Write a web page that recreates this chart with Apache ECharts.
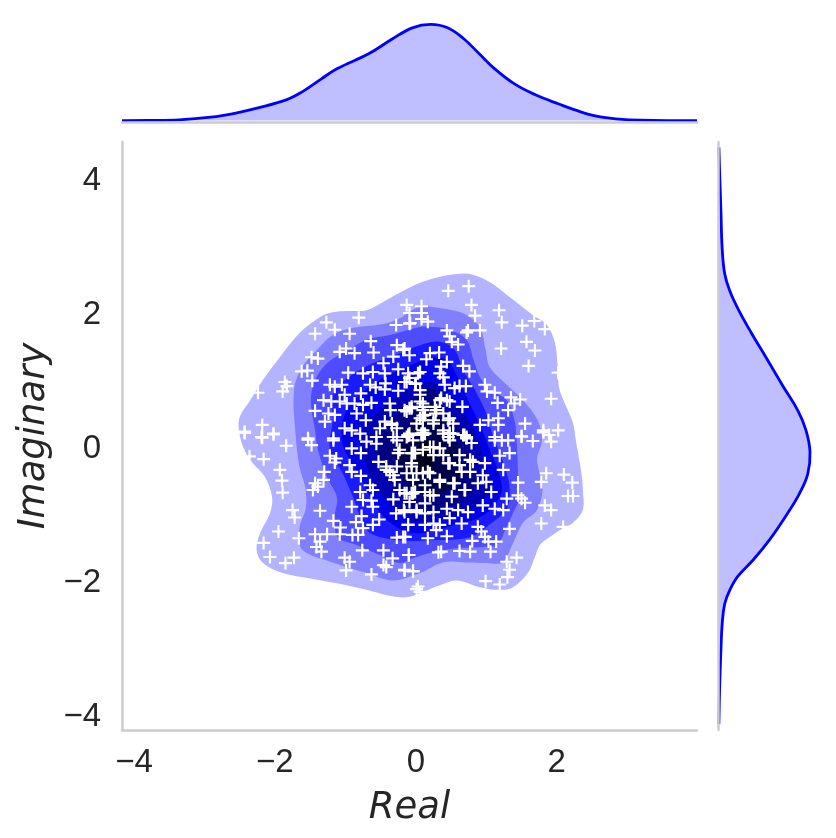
<!DOCTYPE html>
<html>
<head>
<meta charset="utf-8">
<title>Real / Imaginary</title>
<style>
html, body { margin: 0; padding: 0; background: #fff; }
#main { width: 836px; height: 838px; }
</style>
<script src="https://cdn.jsdelivr.net/npm/echarts@6/dist/echarts.min.js"></script>
</head>
<body>
<div id="main"></div>
<script>
var xTicks = [-4, -2, 0, 2];
var yTicks = [-4, -2, 0, 2, 4];

// marginal density, [real, density]
var kdeReal = [[-4.17,0],[-3.8,0.0005],[-3.36,0.003],[-2.91,0.014],[-2.57,0.030],[-2.24,0.052],[-1.84,0.085],[-1.62,0.117],[-1.34,0.172],[-1.12,0.213],[-0.67,0.275],[-0.33,0.337],[-0.05,0.382],[0.21,0.396],[0.45,0.382],[0.68,0.337],[0.90,0.275],[1.12,0.213],[1.40,0.151],[1.69,0.107],[2.02,0.069],[2.36,0.034],[2.64,0.014],[3.03,0.003],[3.99,0]];
// marginal density, [density, imaginary]
var kdeImag = [[0,4.5],[0.003,4.16],[0.009,3.57],[0.015,2.98],[0.026,2.62],[0.048,2.37],[0.085,2.10],[0.143,1.75],[0.217,1.34],[0.290,0.93],[0.356,0.57],[0.392,0.28],[0.410,-0.04],[0.400,-0.37],[0.363,-0.66],[0.305,-0.98],[0.231,-1.34],[0.158,-1.64],[0.085,-1.90],[0.048,-2.11],[0.026,-2.31],[0.015,-2.60],[0.009,-3.01],[0.003,-3.60],[0,-4.1]];

// filled density contours, outermost first
var level1 = [[-2.51,0.28],[-2.50,0.48],[-2.35,0.73],[-2.17,1.03],[-1.93,1.37],[-1.65,1.73],[-1.36,1.97],[-1.18,2.04],[-0.98,2.06],[-0.70,2.07],[-0.47,2.19],[-0.23,2.33],[0.06,2.48],[0.34,2.57],[0.58,2.61],[0.77,2.61],[1.05,2.49],[1.33,2.27],[1.66,2.00],[1.86,1.85],[1.97,1.60],[2.01,1.28],[2.03,0.93],[2.11,0.69],[2.23,0.39],[2.27,0.13],[2.35,-0.36],[2.37,-0.61],[2.37,-0.91],[2.23,-1.10],[2.09,-1.18],[1.90,-1.31],[1.76,-1.43],[1.69,-1.61],[1.59,-1.85],[1.38,-2.06],[1.19,-2.10],[0.91,-2.06],[0.58,-1.96],[0.34,-2.03],[0.10,-2.13],[-0.13,-2.21],[-0.41,-2.18],[-0.70,-2.10],[-1.08,-2.01],[-1.50,-1.93],[-1.89,-1.85],[-2.17,-1.70],[-2.26,-1.51],[-2.21,-1.25],[-2.07,-0.96],[-2.04,-0.72],[-2.14,-0.42],[-2.33,-0.19],[-2.45,0.03]];
var level2 = [[-1.73,0.88],[-1.62,1.21],[-1.40,1.48],[-1.18,1.70],[-0.89,1.81],[-0.55,1.85],[-0.27,1.93],[0.06,2.13],[0.24,2.12],[0.52,2.07],[0.72,2.00],[0.91,1.82],[0.99,1.48],[1.05,1.22],[1.29,0.96],[1.52,0.73],[1.73,0.43],[1.79,0.13],[1.72,-0.16],[1.80,-0.57],[1.72,-0.91],[1.52,-1.10],[1.38,-1.40],[1.23,-1.69],[1.01,-1.70],[0.72,-1.69],[0.38,-1.69],[0.06,-1.85],[-0.33,-1.96],[-0.70,-1.85],[-1.18,-1.69],[-1.55,-1.55],[-1.65,-1.43],[-1.65,-1.16],[-1.56,-0.87],[-1.57,-0.57],[-1.65,-0.27],[-1.70,0.13]];
var level3 = [[-1.49,0.73],[-1.43,1.03],[-1.26,1.28],[-1.04,1.43],[-0.70,1.63],[-0.37,1.70],[0.06,1.82],[0.24,1.82],[0.48,1.78],[0.72,1.63],[0.82,1.33],[0.91,1.07],[1.05,0.88],[1.29,0.73],[1.40,0.43],[1.43,0.13],[1.45,-0.36],[1.46,-0.76],[1.40,-0.91],[1.29,-1.16],[1.15,-1.43],[0.95,-1.46],[0.58,-1.48],[0.24,-1.54],[-0.04,-1.63],[-0.23,-1.70],[-0.51,-1.58],[-0.84,-1.43],[-1.11,-1.31],[-1.15,-1.01],[-1.12,-0.72],[-1.26,-0.42],[-1.39,-0.01],[-1.43,0.28]];
var level4 = [[-1.18,0.43],[-1.18,0.81],[-1.01,1.03],[-0.61,1.28],[-0.23,1.43],[0.06,1.55],[0.34,1.60],[0.55,1.48],[0.67,1.18],[0.84,0.88],[1.02,0.48],[1.08,0.24],[1.19,-0.06],[1.29,-0.36],[1.33,-0.57],[1.30,-0.87],[1.08,-1.10],[0.77,-1.31],[0.20,-1.36],[-0.23,-1.36],[-0.65,-1.25],[-0.79,-1.01],[-0.89,-0.72],[-1.04,-0.36],[-1.22,-0.01]];
var level5 = [[-1.05,0.13],[-1.01,0.51],[-0.82,0.78],[-0.51,1.03],[-0.16,1.21],[0.20,1.36],[0.44,1.33],[0.58,1.10],[0.74,0.73],[0.91,0.36],[1.05,-0.01],[1.16,-0.31],[1.22,-0.61],[1.09,-0.87],[0.88,-1.03],[0.55,-1.13],[0.20,-1.24],[-0.11,-1.24],[-0.37,-1.09],[-0.58,-0.84],[-0.77,-0.46],[-0.94,-0.16]];
var level6 = [[-0.77,0.06],[-0.72,0.36],[-0.51,0.58],[-0.23,0.81],[0.06,0.96],[0.27,0.99],[0.44,0.81],[0.67,0.55],[0.87,0.18],[0.96,-0.16],[1.04,-0.46],[0.98,-0.72],[0.74,-0.91],[0.41,-1.03],[0.09,-1.09],[-0.13,-1.03],[-0.37,-0.81],[-0.58,-0.54],[-0.71,-0.24]];
var level7 = [[-0.54,-0.01],[-0.44,0.28],[-0.23,0.55],[0.06,0.85],[0.23,0.91],[0.34,0.73],[0.45,0.54],[0.65,0.24],[0.77,-0.09],[0.84,-0.43],[0.74,-0.69],[0.48,-0.84],[0.13,-0.91],[-0.09,-0.84],[-0.30,-0.58],[-0.44,-0.31]];
var level8 = [[-0.30,-0.01],[-0.16,0.25],[0.03,0.55],[0.23,0.70],[0.37,0.43],[0.55,0.13],[0.65,-0.16],[0.62,-0.46],[0.41,-0.64],[0.13,-0.69],[-0.09,-0.54],[-0.23,-0.31]];
var level9 = [[0.01,-0.01],[0.13,0.13],[0.23,0.03],[0.23,-0.24],[0.13,-0.39],[0.03,-0.28]];
var levels = [level1, level2, level3, level4, level5, level6, level7, level8, level9];
var levelColors = ['#b3b3ff', '#8080ff', '#4d4dff', '#1a1aff', '#0000e6', '#0000b3', '#000080', '#00004d', '#00001a'];

// samples, [real, imaginary]
var points = [
[-1.27,1.89],[-1.43,1.72],[-1.15,1.78],[-0.94,1.72],[-0.81,1.96],[-0.13,2.15],[-0.09,2.03],[-0.28,1.85],[-0.08,1.88],[-0.64,1.61],[-0.99,1.50],[-1.08,1.45],[-0.87,1.43],[-0.60,1.44],[-0.27,1.55],[-0.18,1.48],[-0.32,1.38],[-0.09,1.40],[-1.48,1.37],[-1.39,1.35],[-0.46,1.28],[-1.62,1.16],[-1.54,1.17],[-0.96,1.14],[-0.75,1.13],[-0.61,1.15],[-0.44,1.13],[-0.25,1.19],[-0.11,1.13],[0.03,1.13],[-1.86,1.00],[-1.83,0.94],[-2.24,0.84],[-1.89,0.86],[-1.47,1.02],[-1.22,0.96],[-1.05,0.96],[-1.15,0.93],[-0.65,0.96],[-0.57,0.92],[-0.43,0.98],[-0.44,0.89],[-0.25,0.87],[-0.13,1.00],[0.00,0.98],[-0.78,0.83],[-1.01,0.81],[-1.31,0.73],[-1.20,0.71],[-1.08,0.71],[-0.98,0.68],[-0.87,0.68],[-0.75,0.66],[-0.63,0.69],[-0.37,0.68],[-0.36,0.58],[-0.06,0.63],[-0.13,0.56],[-1.43,0.57],[-1.24,0.53],[-1.15,0.51],[-0.84,0.53],[-1.29,0.41],[-0.71,0.43],[-2.18,0.36],[-2.43,0.26],[-2.02,0.23],[-2.19,0.18],[-1.53,0.16],[-1.17,0.16],[-1.01,0.31],[-0.91,0.28],[-0.79,0.23],[-0.51,0.31],[-0.34,0.36],[-0.27,0.31],[-0.11,0.20],[0.01,0.38],[-0.56,0.18],
[0.46,2.36],[0.75,2.43],[0.08,2.13],[0.79,2.15],[0.08,2.03],[0.84,1.99],[1.18,2.07],[0.08,1.94],[-0.09,1.87],[0.17,1.90],[1.22,1.89],[1.68,1.91],[1.51,1.84],[1.83,1.79],[0.74,1.77],[0.72,1.74],[0.91,1.77],[0.44,1.77],[0.48,1.68],[0.51,1.60],[0.60,1.56],[1.57,1.60],[1.69,1.47],[1.21,1.50],[1.60,1.24],[2.02,1.14],[1.92,0.75],[-0.16,1.50],[0.20,1.43],[0.33,1.44],[0.15,1.34],[0.44,1.30],[0.67,1.24],[0.76,1.16],[0.36,1.23],[0.34,1.13],[0.39,1.07],[0.06,1.15],[-0.09,1.06],[-0.01,0.97],[-0.16,1.00],[0.41,0.96],[0.55,0.91],[0.62,0.94],[0.71,0.94],[0.98,0.96],[1.01,0.86],[1.12,0.84],[1.35,0.77],[1.48,0.74],[1.40,0.68],[1.31,0.58],[1.16,0.69],[0.06,0.81],[0.44,0.73],[0.36,0.76],[0.66,0.63],[0.06,0.71],[-0.06,0.61],[-0.16,0.58],[0.10,0.58],[0.27,0.63],[0.28,0.53],[0.39,0.53],[0.06,0.46],[0.10,0.50],[0.48,0.46],[0.53,0.38],[0.25,0.38],[0.91,0.36],[1.03,0.43],[1.17,0.46],[1.17,0.36],[1.55,0.38],[1.50,0.19],[1.81,0.28],[1.89,0.21],[2.02,0.28],[0.39,0.23],[0.48,0.23],[0.67,0.21],[0.08,0.23],[-0.11,0.21],[1.12,0.18],
[-2.43,0.24],[-2.18,0.17],[-2.02,0.22],[-1.84,0.05],[-2.36,-0.11],[-2.16,-0.15],[-1.93,-0.31],[-1.90,-0.47],[-1.89,-0.65],[-1.75,-0.91],[-1.72,-1.02],[-1.36,-0.92],[-1.95,-1.23],[-1.66,-1.33],[-2.16,-1.40],[-2.07,-1.61],[-1.73,-1.62],[-1.85,-1.70],[-1.53,0.14],[-1.48,0.06],[-1.17,0.13],[-1.22,-0.10],[-1.13,-0.14],[-1.15,-0.20],[-0.91,0.01],[-0.78,-0.06],[-0.70,0.11],[-0.56,0.08],[-0.94,-0.24],[-0.91,-0.34],[-0.78,-0.40],[-0.53,-0.19],[-1.30,-0.34],[-1.31,-0.46],[-1.43,-0.51],[-1.39,-0.56],[-1.46,-0.61],[-0.65,-0.54],[-0.79,-0.64],[-0.61,-0.61],[-0.75,-0.76],[-0.63,-0.77],[-0.91,-0.86],[-0.61,-0.86],[-0.32,-0.75],[-0.28,-0.96],[-0.17,-0.91],[-0.77,-1.00],[-0.85,-1.09],[-0.52,-1.05],[-0.61,-1.13],[-0.75,-1.18],[-1.17,-1.07],[-1.07,-1.17],[-1.08,-1.27],[-1.43,-1.27],[-1.26,-1.27],[-1.36,-1.38],[-1.41,-1.46],[-1.34,-1.53],[-0.90,-1.28],[-0.82,-1.28],[-0.11,-1.13],[-0.27,-1.32],[-0.18,-1.31],[-0.76,-1.51],[-0.46,-1.51],[-0.33,-1.63],[-0.10,-1.58],[-1.01,-1.62],[-0.94,-1.68],[-0.99,-1.81],[-0.63,-1.87],[-0.46,-1.73],[-0.42,-1.76],[-0.16,-1.80],[-0.04,-1.82],[0.01,-2.09],[-0.37,-0.34],[-0.30,-0.46],[-0.42,-0.26],[-0.23,-0.01],[-0.27,0.13],[-0.06,-0.06],[-0.04,0.13],[0.01,-0.36],[-0.23,-0.61],[-0.06,-0.66],[0.01,-0.91],[-0.13,-0.36],
[1.12,0.13],[1.22,0.13],[1.31,0.13],[1.50,0.19],[1.66,0.12],[1.92,0.11],[1.81,0.25],[1.33,-0.06],[1.19,-0.10],[1.24,-0.31],[1.45,-0.50],[1.85,-0.36],[1.78,-0.49],[2.10,-0.38],[2.22,-0.50],[2.16,-0.70],[2.23,-0.70],[1.83,-0.84],[1.92,-0.91],[1.78,-1.11],[2.09,-1.16],[1.45,-0.69],[1.55,-0.80],[1.50,-0.74],[1.29,-0.74],[1.24,-0.91],[1.12,-0.89],[0.95,-0.84],[1.33,-1.19],[1.14,-1.38],[0.98,-1.31],[1.03,-1.38],[0.80,-1.37],[1.06,-1.53],[0.77,-1.53],[0.62,-1.52],[0.36,-1.53],[0.32,-1.54],[0.44,-1.30],[0.17,-1.33],[-0.10,-1.58],[-0.15,-1.31],[1.29,-1.68],[1.43,-1.62],[1.33,-1.80],[1.30,-1.91],[1.19,-2.02],[0.99,-1.97],[-0.16,-1.81],[-0.04,-1.82],[0.03,-2.05],[0.06,-2.13],[0.65,-1.11],[0.88,-1.16],[0.93,-1.23],[0.29,-1.21],[0.34,-1.13],[0.48,-1.03],[0.25,-1.11],[0.25,-0.94],[0.13,-1.13],[0.01,-0.94],[-0.11,-1.13],[-0.16,-0.94],[0.13,-0.81],[0.44,-0.89],[0.60,-0.91],[0.74,-0.94],[0.51,-0.71],[0.25,-0.69],[-0.09,-0.79],[-0.16,-0.66],[-0.01,-0.64],[-0.04,-0.46],[0.17,-0.34],[0.34,-0.49],[0.55,-0.51],[0.69,-0.61],[0.88,-0.51],[1.00,-0.49],[1.07,-0.64],[0.95,-0.39],[0.77,-0.34],[0.62,-0.24],[0.98,-0.21],[0.81,-0.19],[0.46,-0.21],[0.25,0.03],[0.39,-0.09],[0.48,0.13],[0.72,0.16],[0.79,0.09],[-0.01,-0.06],[-0.06,-0.21],[-0.11,0.21],[0.08,0.21],[0.48,0.24],[0.69,0.21],
[-0.42,-0.31],[-0.27,-0.26],[-0.32,-0.39],[-0.25,-0.06],[-0.04,-0.06],[-0.06,-0.26],[-0.13,-0.66],[-0.04,-0.66],[0.10,-0.01],[0.10,-0.36],[0.13,-0.64],[0.13,-0.96],[-0.32,0.18],[-0.13,0.18],[0.10,0.24],[0.20,0.03],[0.25,-0.09],[0.20,-0.36],[0.34,-0.46],[0.13,-0.54],[0.20,-0.69],[0.48,-0.21],[0.46,0.18],[0.62,-0.09],[0.77,-0.16],[0.65,-0.34],[0.53,-0.51],[0.70,-0.61],[0.34,0.01],[0.72,0.18],[0.10,0.21],[-0.09,0.61],[0.10,0.68],[0.06,0.88],[0.13,0.51],[-0.44,0.41],[-0.34,0.38],[-0.09,0.23],[0.10,0.28],[0.10,0.63],[0.29,0.58],[0.25,0.43],[0.46,0.43],[0.10,0.43],[0.39,0.28],[0.13,0.23],[0.53,0.23],[0.34,0.73],[0.48,0.71]
];

function polySeries(pts, color, gridIdx, z) {
    return {
        type: 'custom',
        coordinateSystem: 'cartesian2d',
        xAxisIndex: gridIdx,
        yAxisIndex: gridIdx,
        data: pts,
        encode: { x: 0, y: 1 },
        z: z,
        silent: true,
        animation: false,
        clip: false,
        renderItem: function(params, api) {
            // one shape per series, drawn on the first row only
            if (params.dataIndex !== 0) return;
            return {
                type: 'polygon',
                shape: { points: pts.map(function(p) { return api.coord(p); }), smooth: 0.35 },
                style: { fill: color, stroke: null }
            };
        }
    };
}

function kdeSeries(pts, gridIdx) {
    return {
        type: 'custom',
        coordinateSystem: 'cartesian2d',
        xAxisIndex: gridIdx,
        yAxisIndex: gridIdx,
        data: pts,
        encode: { x: 0, y: 1 },
        z: 3,
        silent: true,
        animation: false,
        clip: false,
        renderItem: function(params, api) {
            if (params.dataIndex !== 0) return;
            return {
                type: 'polyline',
                shape: { points: pts.map(function(p) { return api.coord(p); }), smooth: 0.4 },
                style: { fill: '#bfbfff', stroke: '#0000ff', lineWidth: 2.8 }
            };
        }
    };
}

function minusLabel(v) {
    return String(v).replace('-', '\u2212');
}

var axisLine = { show: true, onZero: false, lineStyle: { color: '#cccccc', width: 2.5 } };
var labelFont = { color: '#262626', fontFamily: '"Liberation Sans", Arial, sans-serif', fontSize: 33 };
var nameFont = { color: '#262626', fontFamily: '"DejaVu Sans", sans-serif', fontStyle: 'italic', fontSize: 37 };

var series = levels.map(function(l, i) {
    return polySeries(l, levelColors[i], 0, 2 + i * 0.01);
});
series.push({
    type: 'scatter',
    xAxisIndex: 0,
    yAxisIndex: 0,
    data: points,
    symbol: 'path://M5 0h2v5h5v2H7v5H5V7H0V5h5z',
    symbolSize: 13,
    itemStyle: { color: '#ffffff', opacity: 1 },
    z: 5,
    silent: true,
    animation: false
});
series.push(kdeSeries(kdeReal, 1));
series.push(kdeSeries(kdeImag, 2));

var option = {
    backgroundColor: '#ffffff',
    animation: false,
    grid: [
        { left: 122, top: 142, width: 575, height: 588 },
        { left: 122, top: 14, width: 575, height: 108 },
        { left: 718, top: 142, width: 96, height: 588 }
    ],
    xAxis: [
        {
            gridIndex: 0, type: 'value', min: -4.17, max: 3.99,
            name: 'Real', nameLocation: 'middle', nameGap: 60, nameTextStyle: nameFont,
            axisLine: axisLine, axisTick: { show: false }, splitLine: { show: false },
            axisLabel: Object.assign({ customValues: xTicks, formatter: minusLabel, margin: 16 }, labelFont),
            z: 10
        },
        {
            gridIndex: 1, type: 'value', min: -4.17, max: 3.99,
            axisLine: axisLine, axisTick: { show: false }, splitLine: { show: false }, axisLabel: { show: false },
            z: 10
        },
        {
            gridIndex: 2, type: 'value', min: -0.004, max: 0.428,
            axisLine: { show: false }, axisTick: { show: false }, splitLine: { show: false }, axisLabel: { show: false }
        }
    ],
    yAxis: [
        {
            gridIndex: 0, type: 'value', min: -4.19, max: 4.58,
            name: 'Imaginary', nameLocation: 'middle', nameGap: 69, nameTextStyle: nameFont,
            axisLine: axisLine, axisTick: { show: false }, splitLine: { show: false },
            axisLabel: Object.assign({ customValues: yTicks, formatter: minusLabel, margin: 21 }, labelFont),
            z: 10
        },
        {
            gridIndex: 1, type: 'value', min: -0.006, max: 0.439,
            axisLine: { show: false }, axisTick: { show: false }, splitLine: { show: false }, axisLabel: { show: false }
        },
        {
            gridIndex: 2, type: 'value', min: -4.19, max: 4.58,
            axisLine: axisLine, axisTick: { show: false }, splitLine: { show: false }, axisLabel: { show: false },
            z: 10
        }
    ],
    series: series
};

var myechart = echarts.init(document.getElementById('main'));
myechart.setOption(option);
</script>
</body>
</html>
